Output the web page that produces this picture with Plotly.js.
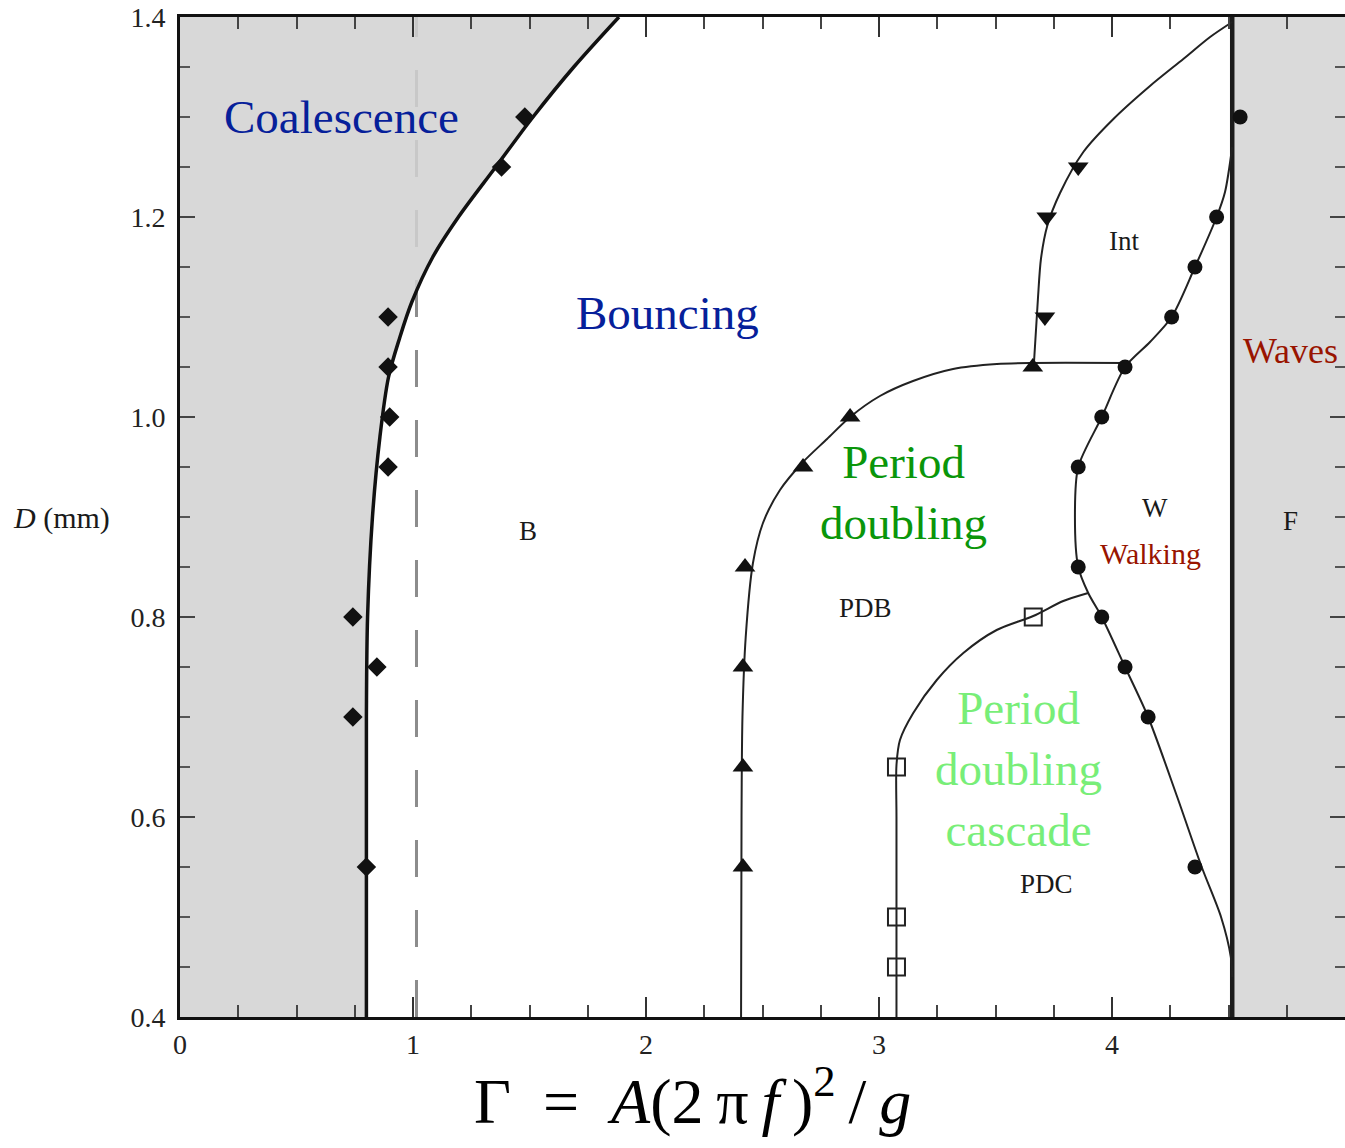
<!DOCTYPE html>
<html>
<head>
<meta charset="utf-8">
<script src="https://cdn.plot.ly/plotly-3.0.1.min.js"></script>
<style>
html,body{margin:0;padding:0;background:#fff;}
#chart{width:1345px;height:1148px;}
</style>
</head>
<body>
<div id="chart"></div>
<script>
// ---------- data (Gamma = A(2 pi f)^2 / g, D in mm) ----------
const gammaRange = [0, 5];
const dRange = [0.4, 1.4];

// Faraday threshold (waves) and gravity line
const wavesGamma = 4.516;
const gravityGamma = 1.015;

// Coalescence / bouncing boundary (curve)
const coalCurveGamma = [0.800, 0.800, 0.805, 0.826, 0.858, 0.895, 0.944, 0.995, 1.085, 1.195, 1.355, 1.515, 1.690, 1.884];
const coalCurveD     = [0.40, 0.70, 0.80, 0.90, 0.98, 1.04, 1.08, 1.115, 1.16, 1.20, 1.25, 1.30, 1.35, 1.40];
// Coalescence measured points (diamonds)
const coalPtsGamma = [0.80, 0.742, 0.845, 0.742, 0.893, 0.90, 0.893, 0.893, 1.38, 1.48];
const coalPtsD     = [0.55, 0.70, 0.75, 0.80, 0.95, 1.00, 1.05, 1.10, 1.25, 1.30];

// Bouncing / period-doubling boundary (curve)
const pdbCurveGamma = [2.408, 2.410, 2.414, 2.428, 2.459, 2.502, 2.575, 2.674, 2.777, 2.876, 3.004, 3.146, 3.318, 3.506, 3.660, 4.060];
const pdbCurveD     = [0.40, 0.60, 0.70, 0.78, 0.854, 0.894, 0.927, 0.955, 0.978, 1.000, 1.021, 1.036, 1.048, 1.053, 1.054, 1.054];
// measured points (triangles up)
const pdbPtsGamma = [2.416, 2.416, 2.416, 2.425, 2.674, 2.876, 3.660];
const pdbPtsD     = [0.55, 0.65, 0.75, 0.85, 0.95, 1.00, 1.05];

// Intermittent region boundary (curve)
const intCurveGamma = [3.665, 3.682, 3.695, 3.722, 3.777, 3.877, 4.006, 4.163, 4.306, 4.421, 4.516];
const intCurveD     = [1.054, 1.118, 1.158, 1.191, 1.224, 1.265, 1.298, 1.331, 1.358, 1.380, 1.395];
// measured points (triangles down)
const intPtsGamma = [3.712, 3.720, 3.855];
const intPtsD     = [1.10, 1.20, 1.25];

// Walking boundary (curve)
const walkCurveGamma = [4.516, 4.485, 4.449, 4.356, 4.256, 4.163, 4.056, 3.956, 3.855, 3.841, 3.855, 3.898, 3.956, 4.056, 4.155, 4.280, 4.385, 4.468, 4.510, 4.516];
const walkCurveD     = [1.27, 1.225, 1.20, 1.15, 1.10, 1.075, 1.05, 1.00, 0.95, 0.904, 0.85, 0.824, 0.80, 0.75, 0.70, 0.62, 0.55, 0.50, 0.46, 0.44];
// measured points (circles)
const walkPtsGamma = [4.356, 4.155, 4.056, 3.956, 3.855, 3.855, 3.956, 4.056, 4.256, 4.356, 4.449, 4.550];
const walkPtsD     = [0.55, 0.70, 0.75, 0.80, 0.85, 0.95, 1.00, 1.05, 1.10, 1.15, 1.20, 1.30];

// Period-doubling cascade boundary (curve)
const pdcCurveGamma = [3.075, 3.075, 3.075, 3.075, 3.090, 3.147, 3.248, 3.362, 3.505, 3.662, 3.791, 3.898];
const pdcCurveD     = [0.40, 0.50, 0.60, 0.652, 0.677, 0.704, 0.737, 0.764, 0.787, 0.801, 0.816, 0.824];
// measured points (open squares)
const pdcPtsGamma = [3.075, 3.075, 3.075, 3.662];
const pdcPtsD     = [0.45, 0.50, 0.65, 0.80];

// Region labels
const bigLabels  = ['Coalescence', 'Bouncing', 'Period<br>doubling', 'Period<br>doubling<br>cascade', 'Waves', 'Walking'];
const bigLabelGamma = [0.695, 2.094, 3.103, 3.600, 4.768, 4.167];
const bigLabelD     = [1.300, 1.104, 0.925, 0.648, 1.066, 0.864];
const smallLabels = ['B', 'PDB', 'W', 'PDC', 'Int', 'F'];
const smallLabelGamma = [1.494, 2.940, 4.185, 3.721, 4.052, 4.768];
const smallLabelD     = [0.886, 0.809, 0.909, 0.533, 1.176, 0.896];

const NB = '\u00a0', TH = '\u2009';
const xTitle = 'Γ' + NB + NB + '=' + NB + NB + '<i>A</i>(2' + TH + 'π' + TH + '<i>f</i>' + TH + ')<sup>2</sup>' + TH + '/' + TH + '<i>g</i>';
const yTitle = '<i>D</i> (mm)';

// ---------- styling ----------
const serif = 'Liberation Serif, Times New Roman, serif';
const ink = '#1a1a1a';
const bigLabelColors = ['#06209a', '#06209a', '#0a960a', '#78ee78', '#991400', '#991400'];
const bigLabelSizes = [47, 47, 47, 47, 36, 30];

const traces = [];
// gravity dashed line (Gamma = 1)
traces.push({x: [gravityGamma, gravityGamma], y: dRange, mode: 'lines',
  line: {color: '#8c8c8c', width: 3, dash: '37px,33px'}, hoverinfo: 'skip'});
// coalescence region fill + boundary
traces.push({x: coalCurveGamma, y: coalCurveD, mode: 'lines', fill: 'tozerox',
  fillcolor: 'rgba(210,210,210,0.86)',
  line: {color: '#111', width: 3.5, shape: 'spline', smoothing: 0.9}});
// waves region
traces.push({x: [wavesGamma, gammaRange[1], gammaRange[1], wavesGamma],
  y: [dRange[0], dRange[0], dRange[1], dRange[1]], mode: 'lines', fill: 'toself',
  fillcolor: '#dadada', line: {width: 0}, hoverinfo: 'skip'});
traces.push({x: [wavesGamma, wavesGamma], y: dRange, mode: 'lines',
  line: {color: '#1c1c1c', width: 4.5}});
// boundaries
traces.push({x: pdbCurveGamma, y: pdbCurveD, mode: 'lines',
  line: {color: '#222', width: 2, shape: 'spline', smoothing: 0.8}});
traces.push({x: intCurveGamma, y: intCurveD, mode: 'lines',
  line: {color: '#222', width: 2, shape: 'spline', smoothing: 0.8}});
traces.push({x: walkCurveGamma, y: walkCurveD, mode: 'lines',
  line: {color: '#222', width: 2, shape: 'spline', smoothing: 0.8}});
traces.push({x: pdcCurveGamma, y: pdcCurveD, mode: 'lines',
  line: {color: '#222', width: 2, shape: 'spline', smoothing: 0.8}});
// measured points
traces.push({x: coalPtsGamma, y: coalPtsD, mode: 'markers',
  marker: {symbol: 'diamond', size: 15, color: '#111'}});
traces.push({x: pdbPtsGamma, y: pdbPtsD, mode: 'markers',
  marker: {symbol: 'triangle-up', size: 18, color: '#111'}});
traces.push({x: intPtsGamma, y: intPtsD, mode: 'markers',
  marker: {symbol: 'triangle-down', size: 18, color: '#111'}});
traces.push({x: walkPtsGamma, y: walkPtsD, mode: 'markers',
  marker: {symbol: 'circle', size: 15, color: '#111'}});
traces.push({x: pdcPtsGamma, y: pdcPtsD, mode: 'markers',
  marker: {symbol: 'square-open', size: 17, color: '#222', line: {width: 2, color: '#222'}}});

const annotations = [];
bigLabels.forEach((t, i) => annotations.push({
  x: bigLabelGamma[i], y: bigLabelD[i], xref: 'x', yref: 'y', text: t, showarrow: false,
  align: 'center', font: {family: serif, size: bigLabelSizes[i], color: bigLabelColors[i]}
}));
smallLabels.forEach((t, i) => annotations.push({
  x: smallLabelGamma[i], y: smallLabelD[i], xref: 'x', yref: 'y', text: t, showarrow: false,
  font: {family: serif, size: 27, color: ink}
}));
annotations.push({x: 0.4395, y: -0.079, xref: 'paper', yref: 'paper', text: xTitle,
  showarrow: false, xanchor: 'center', yanchor: 'middle',
  font: {family: serif, size: 64, color: '#000'}});
annotations.push({x: -0.1013, y: 0.499, xref: 'paper', yref: 'paper', text: yTitle,
  showarrow: false, xanchor: 'center', yanchor: 'middle',
  font: {family: serif, size: 30, color: ink}});

const tickFont = {family: serif, size: 28, color: '#222'};
const layout = {
  width: 1345, height: 1148,
  margin: {l: 180, r: 0, t: 17, b: 131, pad: 0},
  paper_bgcolor: '#fff', plot_bgcolor: '#fff',
  showlegend: false,
  xaxis: {
    range: gammaRange, tickmode: 'linear', tick0: 0, dtick: 1,
    ticks: 'inside', ticklen: 20, tickwidth: 2, tickcolor: '#333',
    showline: true, linecolor: '#111', linewidth: 3, mirror: 'ticks',
    showgrid: false, zeroline: false, tickfont: tickFont, ticklabelstandoff: 0,
    minor: {ticks: 'inside', dtick: 0.25, tick0: 0, ticklen: 12, tickwidth: 2, tickcolor: '#444', showgrid: false},
    fixedrange: true
  },
  yaxis: {
    range: dRange, tickmode: 'linear', tick0: 0.4, dtick: 0.2, tickformat: '.1f',
    ticks: 'inside', ticklen: 15, tickwidth: 2, tickcolor: '#444',
    showline: true, linecolor: '#111', linewidth: 3, mirror: 'ticks',
    showgrid: false, zeroline: false, tickfont: tickFont, ticklabelstandoff: 6,
    minor: {ticks: 'inside', dtick: 0.05, tick0: 0.4, ticklen: 10, tickwidth: 2, tickcolor: '#555', showgrid: false},
    fixedrange: true
  },
  annotations: annotations
};

Plotly.newPlot('chart', traces, layout, {displayModeBar: false, staticPlot: true});
</script>
</body>
</html>
